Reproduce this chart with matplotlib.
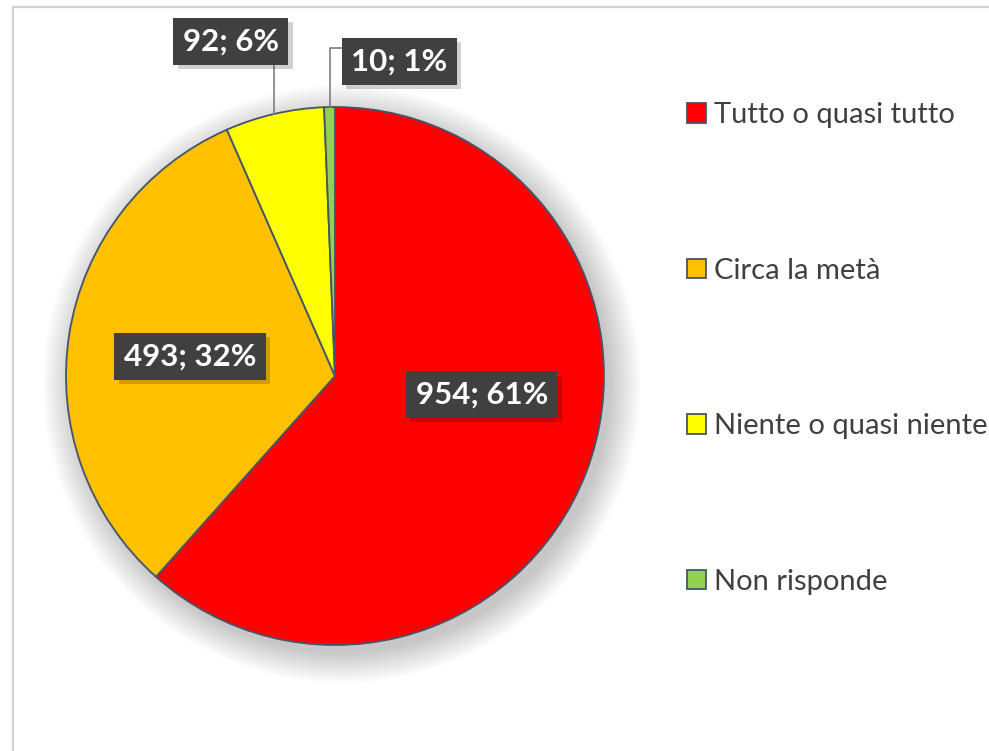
import numpy as np
from matplotlib import pyplot as plt
from matplotlib.patches import Rectangle, Circle
import matplotlib.patheffects as pe

plt.rcParams['font.family'] = ['Lato', 'DejaVu Sans']

# data
categories = ["Tutto o quasi tutto", "Circa la metà", "Niente o quasi niente", "Non risponde"]
counts = [954, 493, 92, 10]
percents = [61, 32, 6, 1]  # as printed on the chart
colors = ["#FF0000", "#FFC000", "#FFFF00", "#92D050"]

labels = ["{}; {}%".format(c, p) for c, p in zip(counts, percents)]

fig = plt.figure(figsize=(9.89, 7.51), dpi=100)

# light grey frame of the chart area
fig.patches.append(Rectangle((13 / 989, -0.05), 1.1, (751 - 7) / 751 + 0.05,
                             transform=fig.transFigure, fill=False,
                             edgecolor="#D0D0D0", linewidth=1.6))

ax = fig.add_axes([66 / 989, 106 / 751, 538 / 989, 538 / 751])

wedges, _ = ax.pie(counts, colors=colors, startangle=90, counterclock=False,
                   radius=1, wedgeprops=dict(edgecolor="#44546A", linewidth=1.3))
for w in wedges:
    w.set_zorder(2)

ax.set_xlim(-1, 1)
ax.set_ylim(-1, 1)
ax.set_aspect("equal")
ax.axis("off")

# soft shadow behind the pie
for r in np.linspace(1.11, 1.0, 14):
    ax.add_patch(Circle((0.025, -0.03), r, facecolor="#000000", alpha=0.016,
                        edgecolor="none", zorder=0, clip_on=False))

box = dict(boxstyle="square,pad=0.3", facecolor="#404040", edgecolor="none")

# label positions (data coords), inner ones inside the slice, small ones outside
label_pos = [(0.546, -0.07), (-0.539, 0.072), (-0.387, 1.243), (0.238, 1.17)]
for txt, (x, y) in zip(labels, label_pos):
    t = ax.text(x, y, txt, ha="center", va="center", fontsize=22.5, fontweight="bold",
                color="white", bbox=box, zorder=5, clip_on=False)
    t.get_bbox_patch().set_path_effects([
        pe.SimplePatchShadow(offset=(3, -3), shadow_rgbFace="#000000", alpha=0.18),
        pe.Normal()])

# leader lines for the small slices
th = np.deg2rad((wedges[2].theta1 + wedges[2].theta2) / 2)
ex, ey = np.cos(th), np.sin(th)
ax.plot([ex, ex], [ey, 1.153], color="#7F7F7F", linewidth=1.2, zorder=3, clip_on=False)
th = np.deg2rad((wedges[3].theta1 + wedges[3].theta2) / 2)
ex, ey = np.cos(th), np.sin(th)
ax.plot([ex, ex, 0.03], [ey, 1.221, 1.221], color="#7F7F7F", linewidth=1.2, zorder=3,
        clip_on=False)

leg = fig.legend(wedges, categories, loc="upper left", bbox_to_anchor=(661 / 989, 1 - 76 / 751),
                 frameon=False, fontsize=21, handlelength=0.65, handleheight=0.65,
                 handletextpad=0.25, labelspacing=4.44, labelcolor="#404040")
for h in leg.legend_handles:
    h.set_edgecolor("#44546A")
    h.set_linewidth(1.3)

fig.savefig("out.png", dpi=100)
